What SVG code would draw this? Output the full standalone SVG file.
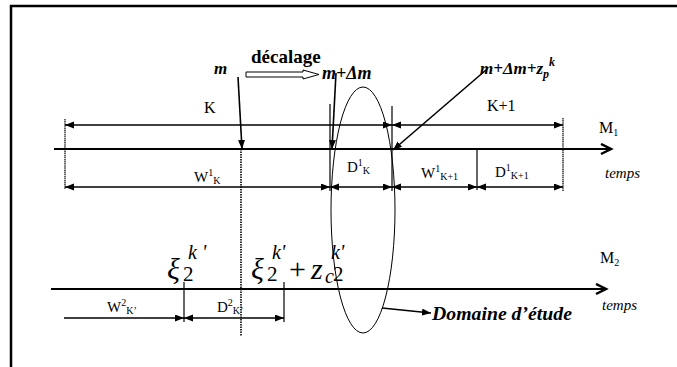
<svg xmlns="http://www.w3.org/2000/svg" width="677" height="367" viewBox="0 0 677 367">
<defs>
<marker id="ah" markerUnits="userSpaceOnUse" markerWidth="10" markerHeight="8" refX="9" refY="3.5" orient="auto-start-reverse"><path d="M0,0 L9,3.5 L0,7 z" fill="#000"/></marker>
<marker id="ax" markerUnits="userSpaceOnUse" markerWidth="14" markerHeight="14" refX="11" refY="6" orient="auto"><path d="M1,1 L11,6 L1,11" fill="none" stroke="#000" stroke-width="2.5"/></marker>
</defs>
<style>
.t{font-family:"Liberation Serif","Times New Roman",serif;fill:#000}
.ax{stroke:#000;stroke-width:2.2;fill:none}
.dim{stroke:#000;stroke-width:1.6;fill:none}
.tk{stroke:#000;stroke-width:1.2;fill:none}
.dot{stroke:#000;stroke-width:1.6;stroke-dasharray:1.5 1;fill:none}
.bi{font-weight:bold;font-style:italic}
</style>
<rect width="677" height="367" fill="#fff"/>
<path d="M11,367 V6 H677" fill="none" stroke="#000" stroke-width="2.5"/>

<g id="connectors">
<line class="ax" x1="54" y1="149" x2="611" y2="149" marker-end="url(#ax)"/>
<line class="ax" x1="51" y1="289" x2="606" y2="289" marker-end="url(#ax)"/>
<line class="tk" x1="65" y1="119" x2="65" y2="189" stroke-dasharray="1.5 0.6"/>
<line class="tk" x1="330" y1="104" x2="330" y2="191"/>
<line class="tk" x1="392" y1="106" x2="392" y2="191"/>
<line class="tk" x1="477" y1="149" x2="477" y2="190"/>
<line class="tk" x1="563" y1="118" x2="563" y2="191" stroke-dasharray="1.5 0.6"/>
<line class="dim" x1="65" y1="125" x2="392" y2="125" marker-start="url(#ah)" marker-end="url(#ah)"/>
<line class="dim" x1="392" y1="125" x2="563" y2="125" marker-start="url(#ah)" marker-end="url(#ah)"/>
<line class="dim" x1="65" y1="187" x2="330" y2="187" marker-start="url(#ah)" marker-end="url(#ah)"/>
<line class="dim" x1="330" y1="187" x2="392" y2="187" marker-start="url(#ah)" marker-end="url(#ah)"/>
<line class="dim" x1="392" y1="187" x2="477" y2="187" marker-start="url(#ah)" marker-end="url(#ah)"/>
<line class="dim" x1="477" y1="187" x2="563" y2="187" marker-start="url(#ah)" marker-end="url(#ah)"/>
<line class="dot" x1="241" y1="149" x2="241" y2="336"/>
<line class="tk" x1="184" y1="282" x2="184" y2="322"/>
<line class="tk" x1="284" y1="282" x2="284" y2="322"/>
<line class="dim" x1="64" y1="318" x2="184" y2="318" marker-end="url(#ah)"/>
<line class="dim" x1="184" y1="318" x2="284" y2="318" marker-start="url(#ah)" marker-end="url(#ah)"/>
<line class="dim" x1="238" y1="77" x2="242" y2="149" marker-end="url(#ah)"/>
<line class="dim" x1="336" y1="73" x2="332" y2="149" marker-end="url(#ah)"/>
<line class="dim" x1="486" y1="70" x2="393" y2="150" marker-end="url(#ah)"/>
<path d="M246,72 H303 V70 L319,74.5 L303,79 V77 H246 z" fill="#fff" stroke="#000" stroke-width="1"/>
<ellipse cx="363" cy="210" rx="32" ry="123" fill="none" stroke="#000" stroke-width="1"/>
<line class="dim" x1="382" y1="308" x2="431" y2="313" marker-end="url(#ah)"/>
</g>

<g id="labels-top">
<text class="t bi" x="214" y="74" font-size="17">m</text>
<text class="t" x="251" y="63" font-size="19" font-weight="bold">décalage</text>
<text class="t bi" x="322" y="79" font-size="18">m+Δm</text>
<text class="t bi" x="480" y="74" font-size="17">m+Δm+z<tspan font-size="12" dy="4">p</tspan><tspan font-size="12" dy="-12">k</tspan></text>
</g>
<g id="M1-labels">
<text class="t" x="204" y="113" font-size="16">K</text>
<text class="t" x="487" y="111" font-size="16">K+1</text>
<text class="t" x="599" y="133" font-size="16">M<tspan font-size="10" dy="3">1</tspan></text>
<text class="t" x="605" y="178" font-size="15" font-style="italic">temps</text>
<text class="t" x="194" y="182" font-size="15">W<tspan font-size="10" dy="-6">1</tspan><tspan font-size="10" dy="8">K</tspan></text>
<text class="t" x="347" y="172" font-size="15">D<tspan font-size="10" dy="-6">1</tspan><tspan font-size="10" dy="8">K</tspan></text>
<text class="t" x="421" y="178" font-size="15">W<tspan font-size="10" dy="-6">1</tspan><tspan font-size="10" dy="8">K+1</tspan></text>
<text class="t" x="495" y="177" font-size="15">D<tspan font-size="10" dy="-6">1</tspan><tspan font-size="10" dy="8">K+1</tspan></text>
</g>
<g id="M2-labels">
<text class="t" x="600" y="263" font-size="16">M<tspan font-size="10" dy="3">2</tspan></text>
<text class="t" x="602" y="310" font-size="15" font-style="italic">temps</text>
<text class="t" x="107" y="312" font-size="15">W<tspan font-size="10" dy="-6">2</tspan><tspan font-size="10" dy="8">K’</tspan></text>
<text class="t" x="217" y="312" font-size="15">D<tspan font-size="10" dy="-6">2</tspan><tspan font-size="10" dy="8">K’</tspan></text>
<text class="t" x="167" y="279" font-size="30" font-style="italic">ξ</text>
<text class="t" x="183" y="281" font-size="21">2</text>
<text class="t" x="188" y="259" font-size="20" font-style="italic">k '</text>
<text class="t" x="251" y="279" font-size="30" font-style="italic">ξ</text>
<text class="t" x="267" y="281" font-size="21">2</text>
<text class="t" x="272" y="259" font-size="20" font-style="italic">k'</text>
<text class="t" x="289" y="279" font-size="30">+</text>
<text class="t" x="311" y="279" font-size="30" font-style="italic">z</text>
<text class="t" x="325" y="283" font-size="20" font-style="italic">c</text>
<text class="t" x="333" y="281" font-size="21">2</text>
<text class="t" x="331" y="259" font-size="20" font-style="italic">k'</text>
<text class="t bi" x="432" y="320" font-size="19" textLength="140" lengthAdjust="spacingAndGlyphs">Domaine d’étude</text>
</g>
</svg>
